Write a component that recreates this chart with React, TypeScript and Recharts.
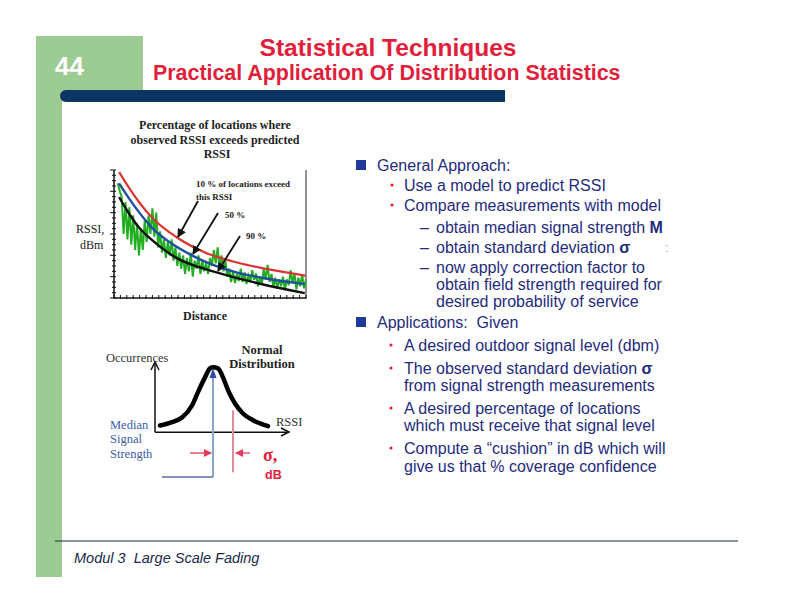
import { Line, LineChart, ReferenceLine, XAxis, YAxis } from "recharts";

// top plot: predicted RSSI curves (distance units 0..30, RSSI units 0..24)
const distanceTicks = [0, 1, 2, 3, 4, 5, 6, 7, 8, 9, 10, 11, 12, 13, 14, 15, 16, 17, 18, 19, 20, 21, 22, 23, 24, 25, 26, 27, 28, 29, 30];
const rssiTicks = [0, 1, 2, 3, 4, 5, 6, 7, 8, 9, 10, 11, 12, 13, 14, 15, 16, 17, 18, 19, 20, 21, 22, 23, 24];

const distance10 = [0.8, 2, 3.9, 6, 9.9, 14.3, 19.4, 24, 29.9];
const rssi10 = [23.6, 21.3, 18, 15, 11.3, 8.5, 6.6, 5.4, 4.2];
const distance50 = [0.8, 2, 3.9, 6, 9, 12.3, 19.4, 24, 29.8];
const rssi50 = [21.5, 19.3, 16.1, 13.1, 10.2, 7.9, 4.7, 3.6, 2.6];
const distance90 = [0.8, 2, 3.9, 6, 9.2, 16.3, 22, 29.8];
const rssi90 = [18.9, 16.5, 13.2, 10.8, 7.9, 4.7, 2.9, 0.9];

// measured samples, one every 0.3 distance units from 0.6
const measuredStart = 0.6;
const measuredStep = 0.3;
const measuredRssi = [
  21.5, 20, 19, 12, 18, 11, 17, 10, 15.5, 9,
  14, 8, 13, 9, 14.5, 10.5, 15.5, 12, 16.8, 11.5,
  16, 9.5, 12.5, 8.5, 11, 7.5, 10.5, 8, 11, 7,
  9.5, 6, 8.5, 5.5, 8, 4.5, 7.5, 5, 8.5, 4,
  7, 5.5, 8, 4.5, 7, 5, 6.5, 4.5, 7.5, 6,
  9, 6.5, 9.5, 5.5, 8, 5, 7, 4, 5.5, 3,
  5, 2.8, 4.5, 3.2, 5.5, 3, 4.8, 2.6, 4.2, 3,
  5.2, 3.4, 4.6, 2.2, 4, 2.5, 5.5, 3.5, 6.2, 3,
  4.5, 2, 3.8, 1.8, 3.5, 2.2, 4, 1.5, 3.5, 2.4,
  5.2, 2.8, 4.6, 1.6, 3.8, 2.2, 4.4, 1.8, 3.5,
];

// bottom plot: normal distribution (x in sigma-ish units around the median)
const rssiOffset = [-2.65, -2.05, -1.55, -1.05, -0.75, -0.4, -0.15, 0, 0.25, 0.5, 0.75, 1.1, 1.5, 2, 2.75];
const occurrences = [0.1, 0.15, 0.22, 0.4, 0.6, 0.82, 0.955, 0.97, 0.955, 0.82, 0.63, 0.43, 0.28, 0.18, 0.09];
const medianOffset = 0;
const sigmaOffset = 1;

const pair = (xs: number[], ys: number[]) => xs.map((x, i) => ({ x, y: ys[i] }));

const SANS = "'Liberation Sans', Arial, sans-serif";
const SERIF = "'Liberation Serif', 'Times New Roman', serif";
const NAVY = "#1f2b7c";
const RED = "#e0203a";

const DistanceTick = ({ x, y }: any) => (
  <line x1={x} x2={x} y1={y - 3} y2={y + 1} stroke="#111" strokeWidth={1} />
);

const RssiTick = ({ x, y, index }: any) => (
  <line x1={x - (index % 4 === 0 ? 4 : 2)} x2={x + 2} y1={y} y2={y} stroke="#111" strokeWidth={1} />
);

function FieldPlot() {
  return (
    <div style={{ position: "absolute", left: 104, top: 165 }}>
      <LineChart width={208} height={143} margin={{ top: 5, right: 6, bottom: 4, left: 2 }}>
        <XAxis
          type="number"
          dataKey="x"
          domain={[0, 30]}
          ticks={distanceTicks}
          interval={0}
          height={6}
          tickSize={0}
          tickMargin={0}
          tickLine={false}
          tick={DistanceTick}
          axisLine={{ stroke: "#111", strokeWidth: 1.5 }}
          allowDataOverflow
        />
        <YAxis
          type="number"
          domain={[0, 24]}
          ticks={rssiTicks}
          interval={0}
          width={8}
          tickSize={0}
          tickMargin={0}
          tickLine={false}
          tick={RssiTick}
          axisLine={{ stroke: "#111", strokeWidth: 1.5 }}
          allowDataOverflow
        />
        <ReferenceLine x={30} stroke="#222" strokeWidth={1} />
        <Line data={pair(measuredRssi.map((_, i) => measuredStart + i * measuredStep), measuredRssi)} dataKey="y" type="linear" stroke="#22ad22" strokeWidth={2} dot={false} isAnimationActive={false} />
        <Line data={pair(distance10, rssi10)} dataKey="y" type="monotone" stroke="#dd3333" strokeWidth={2.2} dot={false} isAnimationActive={false} />
        <Line data={pair(distance50, rssi50)} dataKey="y" type="monotone" stroke="#1f4f9f" strokeWidth={2.4} dot={false} isAnimationActive={false} />
        <Line data={pair(distance90, rssi90)} dataKey="y" type="monotone" stroke="#111" strokeWidth={2.4} dot={false} isAnimationActive={false} />
      </LineChart>
    </div>
  );
}

function NormalPlot() {
  return (
    <div style={{ position: "absolute", left: 151, top: 358 }}>
      <LineChart width={143} height={125} margin={{ top: 4, right: 4, bottom: 4, left: 4 }}>
        <XAxis type="number" dataKey="x" domain={[-2.9, 3.85]} hide allowDataOverflow />
        <YAxis type="number" domain={[-0.7, 1.05]} hide allowDataOverflow />
        <ReferenceLine segment={[{ x: -2.9, y: 0 }, { x: 3.7, y: 0 }]} stroke="#111" strokeWidth={1.5} />
        <ReferenceLine segment={[{ x: -2.9, y: 0 }, { x: -2.9, y: 1.02 }]} stroke="#111" strokeWidth={1.5} />
        <ReferenceLine segment={[{ x: medianOffset, y: -0.67 }, { x: medianOffset, y: 0.92 }]} stroke="#8fa2c8" strokeWidth={2} />
        <ReferenceLine segment={[{ x: -2.55, y: -0.67 }, { x: medianOffset, y: -0.67 }]} stroke="#5a6fa8" strokeWidth={1.5} />
        <ReferenceLine segment={[{ x: sigmaOffset, y: 0.33 }, { x: sigmaOffset, y: -0.6 }]} stroke="#e48aa0" strokeWidth={2} />
        <Line data={pair(rssiOffset, occurrences)} dataKey="y" type="monotone" stroke="#000" strokeWidth={4.5} strokeLinecap="round" dot={false} isAnimationActive={false} />
      </LineChart>
    </div>
  );
}

function Slide() {
  return (
    <svg width={792} height={612} style={{ position: "absolute", left: 0, top: 0, pointerEvents: "none" }}>
      <defs>
        <marker id="headBlack" markerWidth={9} markerHeight={9} refX={8} refY={4.5} orient="auto" markerUnits="userSpaceOnUse">
          <path d="M0,0 L9,4.5 L0,9 z" fill="#111" />
        </marker>
        <marker id="headRed" markerWidth={8} markerHeight={8} refX={7} refY={4} orient="auto" markerUnits="userSpaceOnUse">
          <path d="M0,0 L8,4 L0,8 z" fill="#e23a5a" />
        </marker>
      </defs>

      {/* slide frame */}
      <rect x={36} y={36} width={107} height={58} fill="#9ccb94" />
      <rect x={36} y={36} width={26} height={541} fill="#9ccb94" />
      <path d="M66,90 H505 V102 H66 A6,6 0 0 1 66,90 Z" fill="#0b3563" />
      <text x={55} y={75} fontFamily={SANS} fontWeight="bold" fontSize={26} fill="#fff">44</text>
      <text x={388} y={56} textAnchor="middle" fontFamily={SANS} fontWeight="bold" fontSize={24.5} fill={RED}>Statistical Techniques</text>
      <text x={153} y={80} fontFamily={SANS} fontWeight="bold" fontSize={21.4} fill={RED}>Practical Application Of Distribution Statistics</text>
      <line x1={55} x2={738} y1={541} y2={541} stroke="#1c2a3a" strokeWidth={1} />
      <text x={74} y={563} fontFamily={SANS} fontStyle="italic" fontSize={14.5} fill="#1a2a4a" style={{ whiteSpace: "pre" }}>Modul 3  Large Scale Fading</text>

      {/* top plot labels */}
      <g fontFamily={SERIF} fontWeight="bold" fontSize={12} fill="#222" textAnchor="middle">
        <text x={215} y={129}>Percentage of locations where</text>
        <text x={215} y={144}>observed RSSI exceeds predicted</text>
        <text x={217} y={158}>RSSI</text>
      </g>
      <g fontFamily={SERIF} fontSize={12} fill="#222">
        <text x={76} y={233}>RSSI,</text>
        <text x={80} y={249}>dBm</text>
        <text x={183} y={320} fontWeight="bold">Distance</text>
      </g>
      <g fontFamily={SERIF} fontSize={9} fill="#222" fontWeight="bold">
        <text x={196} y={187}>10 %  of locations exceed</text>
        <text x={196} y={200}>this RSSI</text>
        <text x={225} y={218}>50 %</text>
        <text x={246} y={239}>90 %</text>
      </g>
      <line x1={198} y1={201} x2={178} y2={237} stroke="#111" strokeWidth={1.8} markerEnd="url(#headBlack)" />
      <line x1={218} y1={213} x2={193} y2={254} stroke="#111" strokeWidth={1.8} markerEnd="url(#headBlack)" />
      <line x1={240} y1={236} x2={218} y2={271} stroke="#111" strokeWidth={1.8} markerEnd="url(#headBlack)" />

      {/* normal distribution labels and marks */}
      <polyline points="151,370 155,362 159,370" fill="none" stroke="#111" strokeWidth={1.5} />
      <polyline points="281,428 289,432 281,436" fill="none" stroke="#111" strokeWidth={1.5} />
      <polygon points="213,368 209.5,378 216.5,378" fill="#2c4aa6" />
      <line x1={190} y1={453} x2={211} y2={453} stroke="#e23a5a" strokeWidth={1.3} markerEnd="url(#headRed)" />
      <line x1={250} y1={453} x2={236} y2={453} stroke="#e23a5a" strokeWidth={1.3} markerEnd="url(#headRed)" />
      <g fontFamily={SERIF} fontSize={12.5}>
        <text x={106} y={362} fill="#333">Occurrences</text>
        <text x={262} y={354} fill="#222" fontWeight="bold" textAnchor="middle">Normal</text>
        <text x={262} y={368} fill="#222" fontWeight="bold" textAnchor="middle">Distribution</text>
        <text x={276} y={426} fill="#333">RSSI</text>
        <text x={110} y={429} fill="#3d5aa8">Median</text>
        <text x={110} y={443} fill="#3d5aa8">Signal</text>
        <text x={110} y={458} fill="#3d5aa8">Strength</text>
      </g>
      <text x={263} y={461} fontFamily={SERIF} fontWeight="bold" fontSize={18} fill={RED}>σ,</text>
      <text x={265} y={479} fontFamily={SANS} fontWeight="bold" fontSize={12.5} fill={RED}>dB</text>

      {/* right column text */}
      <g fontFamily={SANS} fontSize={16} fill={NAVY}>
        <rect x={356} y={160} width={10} height={10} fill="#1f3a9a" />
        <text x={377} y={171}>General Approach:</text>
        <circle cx={392} cy={185} r={1.6} fill={RED} />
        <text x={404} y={191}>Use a model to predict RSSI</text>
        <circle cx={392} cy={205} r={1.6} fill={RED} />
        <text x={404} y={211}>Compare measurements with model</text>
        <text x={420} y={233}>–</text>
        <text x={436} y={233}>obtain median signal strength <tspan fontWeight="bold">M</tspan></text>
        <text x={420} y={253}>–</text>
        <text x={436} y={253}>obtain standard deviation  <tspan fontWeight="bold">σ</tspan></text>
        <text x={665} y={252} fontSize={12} fill="#999">:</text>
        <text x={420} y={273}>–</text>
        <text x={436} y={273}>now apply correction factor to</text>
        <text x={436} y={290}>obtain field strength required for</text>
        <text x={436} y={307}>desired probability of service</text>

        <rect x={356} y={317} width={10} height={10} fill="#1f3a9a" />
        <text x={377} y={328} style={{ whiteSpace: "pre" }}>Applications:  Given</text>
        <circle cx={391} cy={345} r={1.6} fill={RED} />
        <text x={404} y={351}>A desired outdoor signal level (dbm)</text>
        <circle cx={391} cy={368} r={1.6} fill={RED} />
        <text x={404} y={374}>The observed standard deviation <tspan fontWeight="bold">σ</tspan></text>
        <text x={404} y={391}>from signal strength measurements</text>
        <circle cx={391} cy={408} r={1.6} fill={RED} />
        <text x={404} y={414}>A desired percentage of locations</text>
        <text x={404} y={431}>which must receive that signal level</text>
        <circle cx={391} cy={448} r={1.6} fill={RED} />
        <text x={404} y={454}>Compute a “cushion” in dB which will</text>
        <text x={404} y={472}>give us that % coverage confidence</text>
      </g>
    </svg>
  );
}

export default function App() {
  return (
    <div style={{ position: "absolute", left: 0, top: 0, width: 792, height: 612, background: "#fff", overflow: "hidden" }}>
      <FieldPlot />
      <NormalPlot />
      <Slide />
    </div>
  );
}
